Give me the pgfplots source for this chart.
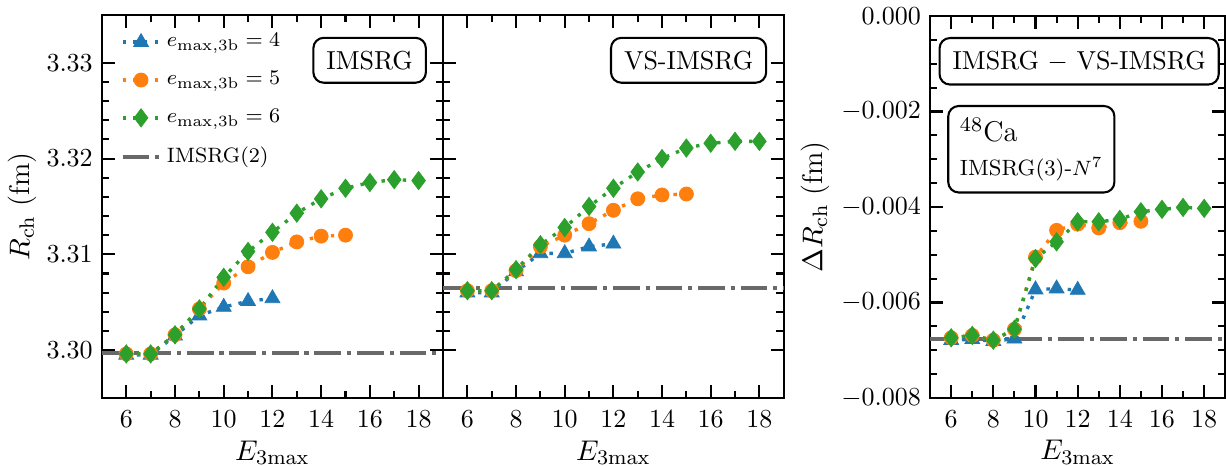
\documentclass[border=0pt]{standalone}
\usepackage{pgfplots}
\pgfplotsset{compat=1.18}
\definecolor{c1}{HTML}{1F77B4}
\definecolor{c2}{HTML}{FF7F0E}
\definecolor{c3}{HTML}{2CA02C}
\definecolor{cg}{HTML}{696969}

\tikzset{
 lbox/.style={draw, rounded corners=4pt, line width=0.8pt, fill=white, inner sep=5pt, font=\fontsize{10}{12}\selectfont},
}
\pgfplotsset{
 common/.style={
   scale only axis, height=147.3pt,
   xmin=5,xmax=19, xtick={6,8,...,18}, minor x tick num=1,
   tick align=inside, major tick length=5pt, minor tick length=2.8pt,
   every tick/.append style={black, line width=0.8pt},
   axis line style={line width=0.8pt},
   xlabel={$E_{3\mathrm{max}}$},
   xlabel style={at={(axis description cs:0.5,-0.162)}, anchor=base, font=\fontsize{11}{13}\selectfont},
   tick label style={font=\fontsize{10}{12}\selectfont},
   xticklabel style={yshift=-1.5pt},
   scaled y ticks=false,
   anchor=south west,
   clip=false,
 },
 dotl/.style={line width=1.3pt, dash pattern=on 1.3pt off 2.8pt},
 s4/.style={c1, dotl, mark=triangle*, mark size=3.3pt, mark options={solid, line width=0.3pt}},
 s5/.style={c2, dotl, mark=*, mark size=2.7pt, mark options={solid, line width=0.3pt}},
 s6/.style={c3, dotl, mark=diamond*, mark size=3.5pt, mark options={solid, line width=0.3pt}},
 refl/.style={cg, line width=1.6pt, dash pattern=on 10.3pt off 2.2pt on 1.65pt off 2.2pt},
}

\begin{document}
\begin{tikzpicture}
\path[use as bounding box] (0,0) rectangle (471.5pt,179.2pt);

% ---------- Panel 1: IMSRG ----------
\begin{axis}[common,
  at={(39.2pt,26.15pt)}, width=131.15pt,
  ymin=3.295, ymax=3.335, ytick={3.30,3.31,3.32,3.33}, minor y tick num=4,
  yticklabel style={/pgf/number format/.cd, fixed, fixed zerofill, precision=2},
  ylabel={$R_{\mathrm{ch}}$ (fm)},
  ylabel style={at={(axis description cs:-0.234,0.5)}, anchor=center, font=\fontsize{11}{13}\selectfont},
  legend style={at={(axis description cs:0.03,0.98)}, anchor=north west, draw=none, fill=none,
    font=\fontsize{8}{9.5}\selectfont, row sep=3.9pt},
  legend cell align=left,
  legend image code/.code={\draw[mark repeat=2,mark phase=2] plot coordinates {(0cm,0cm) (0.25cm,0cm) (0.5cm,0cm)};},
]
\addplot[refl, forget plot] coordinates {(5,3.2997) (19,3.2997)};
\addplot[s4] coordinates {(6,3.2995) (7,3.2995) (8,3.3015) (9,3.3036) (10,3.3045) (11,3.3051) (12,3.3054)};
\addlegendentry{$e_{\mathrm{max},3\mathrm{b}} = 4$}
\addplot[s5] coordinates {(6,3.2996) (7,3.2996) (8,3.3016) (9,3.3043) (10,3.3070) (11,3.3087) (12,3.3102) (13,3.3113) (14,3.3119) (15,3.3120)};
\addlegendentry{$e_{\mathrm{max},3\mathrm{b}} = 5$}
\addplot[s6] coordinates {(6,3.2996) (7,3.2996) (8,3.3016) (9,3.3043) (10,3.3076) (11,3.3103) (12,3.3123) (13,3.3143) (14,3.3158) (15,3.3169) (16,3.3175) (17,3.3178) (18,3.3177)};
\addlegendentry{$e_{\mathrm{max},3\mathrm{b}} = 6$}
\addlegendimage{refl}
\addlegendentry{IMSRG(2)}
\node[lbox, anchor=north east] at (rel axis cs:0.953,0.943) {IMSRG};
\end{axis}

% ---------- Panel 2: VS-IMSRG ----------
\begin{axis}[common,
  at={(170.4pt,26.15pt)}, width=131pt,
  ymin=3.295, ymax=3.335, ytick={3.30,3.31,3.32,3.33}, minor y tick num=4,
  yticklabels={},
]
\addplot[refl] coordinates {(5,3.3065) (19,3.3065)};
\addplot[s4] coordinates {(6,3.3060) (7,3.3060) (8,3.3082) (9,3.3101) (10,3.3101) (11,3.3108) (12,3.3111)};
\addplot[s5] coordinates {(6,3.3062) (7,3.3062) (8,3.3083) (9,3.3108) (10,3.3120) (11,3.3132) (12,3.3146) (13,3.3158) (14,3.3162) (15,3.3163)};
\addplot[s6] coordinates {(6,3.3062) (7,3.3062) (8,3.3084) (9,3.3110) (10,3.3128) (11,3.3150) (12,3.3169) (13,3.3186) (14,3.3200) (15,3.3211) (16,3.3216) (17,3.3218) (18,3.3218)};
\node[lbox, anchor=north east] at (rel axis cs:0.9515,0.943) {VS-IMSRG};
\end{axis}

% ---------- Panel 3: difference ----------
\begin{axis}[common,
  at={(357.7pt,26.15pt)}, width=113.5pt, height=146.9pt,
  ymin=-0.008, ymax=0, ytick={-0.008,-0.006,-0.004,-0.002,0}, minor y tick num=3,
  yticklabel style={/pgf/number format/.cd, fixed, fixed zerofill, precision=3},
  ylabel={$\Delta R_{\mathrm{ch}}$ (fm)},
  ylabel style={at={(axis description cs:-0.389,0.5)}, anchor=center, font=\fontsize{11}{13}\selectfont},
]
\addplot[refl] coordinates {(5,-0.00676) (19,-0.00676)};
\addplot[s4] coordinates {(6,-0.00679) (7,-0.00677) (8,-0.00681) (9,-0.00676) (10,-0.00573) (11,-0.00571) (12,-0.00574)};
\addplot[s5] coordinates {(6,-0.00674) (7,-0.00669) (8,-0.00679) (9,-0.00656) (10,-0.00505) (11,-0.00449) (12,-0.00436) (13,-0.00444) (14,-0.00433) (15,-0.00430)};
\addplot[s6] coordinates {(6,-0.00674) (7,-0.00669) (8,-0.00679) (9,-0.00656) (10,-0.00508) (11,-0.00473) (12,-0.00431) (13,-0.00431) (14,-0.00426) (15,-0.00410) (16,-0.00405) (17,-0.00401) (18,-0.00403)};
\node[lbox, anchor=north] at (rel axis cs:0.505,0.945) {IMSRG $-$ VS-IMSRG};
\node[lbox, anchor=north west, align=left, inner sep=4.5pt] at (rel axis cs:0.058,0.767)
  {{\fontsize{11}{13}\selectfont $^{48}$Ca}\\[1pt]{\fontsize{8.5}{10}\selectfont IMSRG(3)-$N^7$}};
\end{axis}
\end{tikzpicture}
\end{document}
